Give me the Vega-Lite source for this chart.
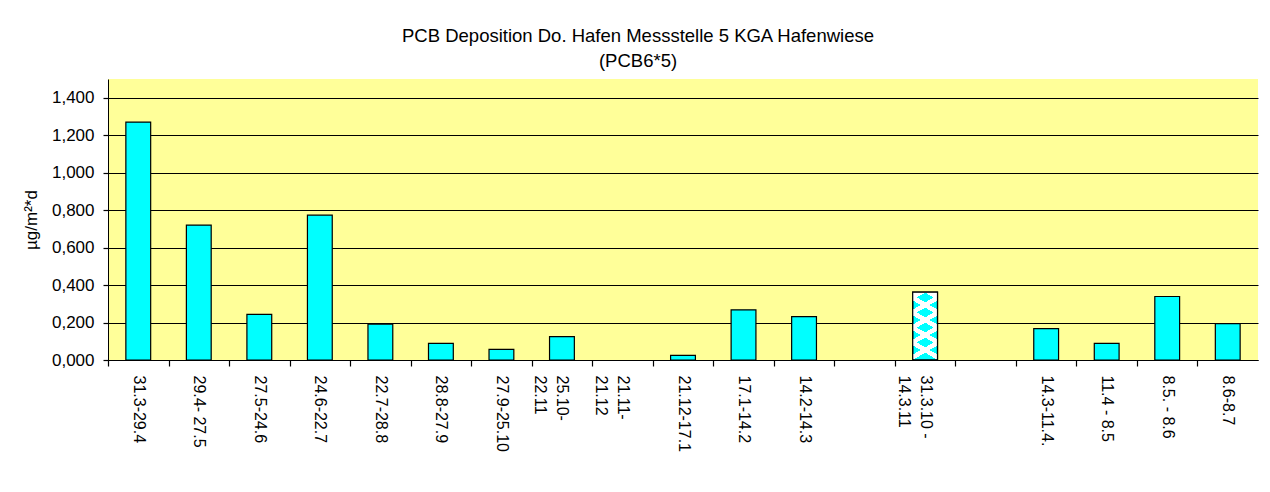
{
  "$schema": "https://vega.github.io/schema/vega-lite/v6.json",
  "width": 1150,
  "height": 281,
  "autosize": {"type": "none"},
  "padding": {"left": 108, "top": 79, "right": 12, "bottom": 132},
  "background": "#ffffff",
  "config": {
    "font": "Liberation Sans",
    "view": {"fill": "#FFFF99", "stroke": null},
    "axis": {"labelColor": "#000000", "titleColor": "#000000", "domainColor": "#000000", "tickColor": "#000000", "domainWidth": 1, "tickWidth": 1.2}
  },
  "title": {
    "text": ["PCB Deposition Do. Hafen Messstelle 5 KGA Hafenwiese", "(PCB6*5)"],
    "fontSize": 18.5,
    "fontWeight": "normal",
    "color": "#000000",
    "anchor": "middle",
    "dx": -45,
    "lineHeight": 25,
    "offset": 9
  },
  "data": {
    "values": [
      {"period": "31.3-29.4", "value": 1.27},
      {"period": "29.4- 27.5", "value": 0.72},
      {"period": "27.5-24.6", "value": 0.244},
      {"period": "24.6-22.7", "value": 0.773},
      {"period": "22.7-28.8", "value": 0.191},
      {"period": "28.8-27.9", "value": 0.089},
      {"period": "27.9-25.10", "value": 0.057},
      {"period": "25.10-|22.11", "value": 0.125},
      {"period": "21.11-|21.12", "value": null},
      {"period": "21.12-17.1", "value": 0.025},
      {"period": "17.1-14.2", "value": 0.268},
      {"period": "14.2-14.3", "value": 0.232},
      {"period": " ", "value": null},
      {"period": "31.3.10 -|14.3.11", "value": 0.362},
      {"period": "  ", "value": null},
      {"period": "14.3-11.4.", "value": 0.168},
      {"period": "11.4 - 8.5", "value": 0.089},
      {"period": "8.5. - 8.6", "value": 0.339},
      {"period": "8.6-8.7", "value": 0.194}
    ]
  },
  "encoding": {
    "x": {
      "field": "period",
      "type": "nominal",
      "title": null,
      "scale": {
        "domain": ["31.3-29.4", "29.4- 27.5", "27.5-24.6", "24.6-22.7", "22.7-28.8", "28.8-27.9", "27.9-25.10", "25.10-|22.11", "21.11-|21.12", "21.12-17.1", "17.1-14.2", "14.2-14.3", " ", "31.3.10 -|14.3.11", "  ", "14.3-11.4.", "11.4 - 8.5", "8.5. - 8.6", "8.6-8.7"],
        "paddingInner": 0.59,
        "paddingOuter": 0.295
      },
      "axis": {
        "labelExpr": "datum.value ? split(datum.value, '|') : ''",
        "labelAngle": 90,
        "labelAlign": "left",
        "labelBaseline": "middle",
        "labelFontSize": 16,
        "labelLineHeight": 22,
        "labelPadding": 9,
        "ticks": true,
        "bandPosition": 0,
        "tickOffset": -17.86,
        "labelOffset": 17.86,
        "tickSize": 6,
        "tickColor": "#000000",
        "tickWidth": 1.2,
        "labelOverlap": false,
        "labelLimit": 0
      }
    },
    "y": {
      "field": "value",
      "type": "quantitative",
      "title": "µg/m²*d",
      "scale": {"domain": [0, 1.5], "nice": false},
      "axis": {
        "values": [0, 0.2, 0.4, 0.6, 0.8, 1.0, 1.2, 1.4],
        "labelExpr": "replace(format(datum.value, '.3f'), '.', ',')",
        "labelFontSize": 17,
        "labelPadding": 9,
        "tickSize": 5,
        "grid": true,
        "gridColor": "#000000",
        "gridOpacity": 1,
        "gridWidth": 1,
        "titleFontSize": 17,
        "titleFontWeight": "normal",
        "titlePadding": 11
      }
    }
  },
  "layer": [
    {"mark": {"type": "bar", "fill": "#00FFFF", "stroke": "#000000", "strokeWidth": 1.2}},
    {
      "transform": [{"filter": "datum.period === '31.3.10 -|14.3.11'"}],
      "mark": {
        "type": "bar",
        "strokeWidth": 0,
        "fill": {
          "gradient": "linear", "x1": 0.607, "y1": 0, "x2": 0.393, "y2": 1,
          "stops": [
            {"offset": 0, "color": "#ffffff"}, {"offset": 0.0278, "color": "#ffffff"},
            {"offset": 0.0278, "color": "rgba(255,255,255,0)"}, {"offset": 0.1652, "color": "rgba(255,255,255,0)"},
            {"offset": 0.1652, "color": "#ffffff"}, {"offset": 0.2393, "color": "#ffffff"},
            {"offset": 0.2393, "color": "rgba(255,255,255,0)"}, {"offset": 0.3767, "color": "rgba(255,255,255,0)"},
            {"offset": 0.3767, "color": "#ffffff"}, {"offset": 0.4513, "color": "#ffffff"},
            {"offset": 0.4513, "color": "rgba(255,255,255,0)"}, {"offset": 0.5887, "color": "rgba(255,255,255,0)"},
            {"offset": 0.5887, "color": "#ffffff"}, {"offset": 0.6623, "color": "#ffffff"},
            {"offset": 0.6623, "color": "rgba(255,255,255,0)"}, {"offset": 0.7997, "color": "rgba(255,255,255,0)"},
            {"offset": 0.7997, "color": "#ffffff"}, {"offset": 0.8743, "color": "#ffffff"},
            {"offset": 0.8743, "color": "rgba(255,255,255,0)"}, {"offset": 1, "color": "rgba(255,255,255,0)"}
          ]
        }
      }
    },
    {
      "transform": [{"filter": "datum.period === '31.3.10 -|14.3.11'"}],
      "mark": {
        "type": "bar",
        "stroke": "#000000",
        "strokeWidth": 1.2,
        "fill": {
          "gradient": "linear", "x1": 0.393, "y1": 0, "x2": 0.607, "y2": 1,
          "stops": [
            {"offset": 0, "color": "#ffffff"}, {"offset": 0.0278, "color": "#ffffff"},
            {"offset": 0.0278, "color": "rgba(255,255,255,0)"}, {"offset": 0.1652, "color": "rgba(255,255,255,0)"},
            {"offset": 0.1652, "color": "#ffffff"}, {"offset": 0.2393, "color": "#ffffff"},
            {"offset": 0.2393, "color": "rgba(255,255,255,0)"}, {"offset": 0.3767, "color": "rgba(255,255,255,0)"},
            {"offset": 0.3767, "color": "#ffffff"}, {"offset": 0.4513, "color": "#ffffff"},
            {"offset": 0.4513, "color": "rgba(255,255,255,0)"}, {"offset": 0.5887, "color": "rgba(255,255,255,0)"},
            {"offset": 0.5887, "color": "#ffffff"}, {"offset": 0.6623, "color": "#ffffff"},
            {"offset": 0.6623, "color": "rgba(255,255,255,0)"}, {"offset": 0.7997, "color": "rgba(255,255,255,0)"},
            {"offset": 0.7997, "color": "#ffffff"}, {"offset": 0.8743, "color": "#ffffff"},
            {"offset": 0.8743, "color": "rgba(255,255,255,0)"}, {"offset": 1, "color": "rgba(255,255,255,0)"}
          ]
        }
      }
    }
  ]
}
